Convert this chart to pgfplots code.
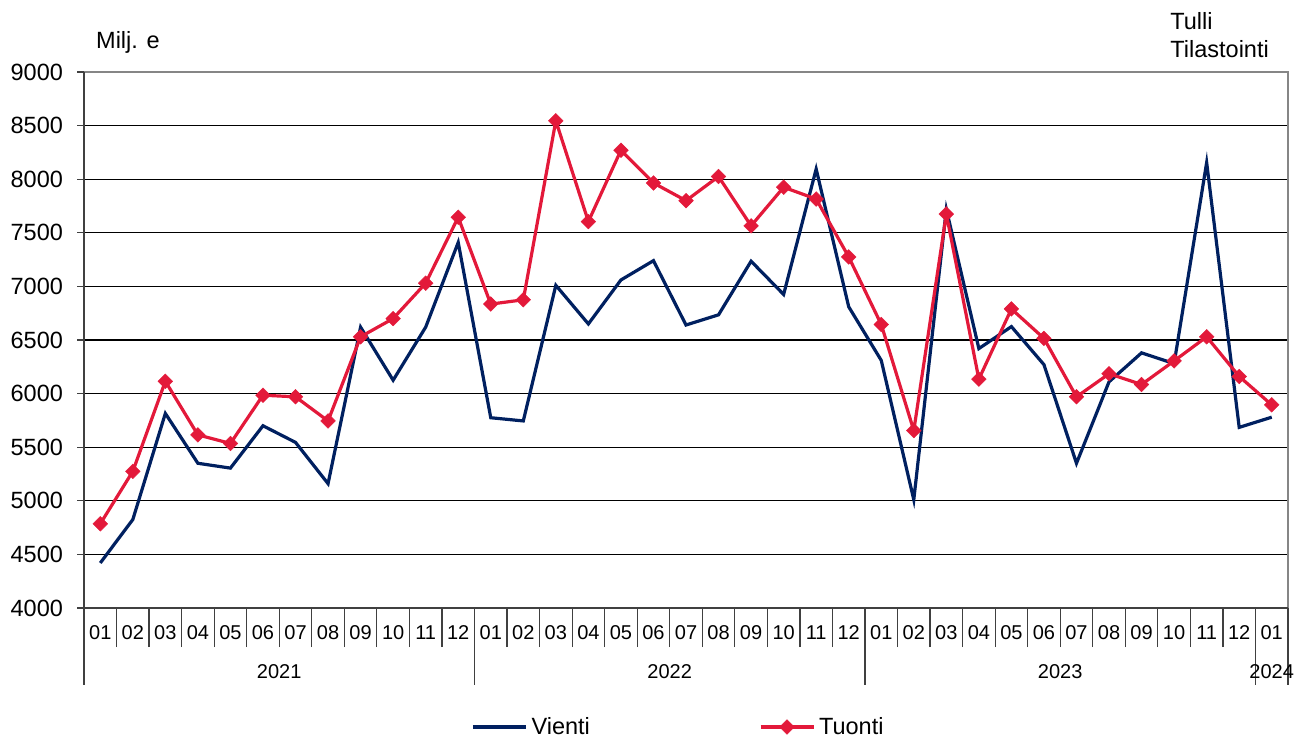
\documentclass[border=0pt]{standalone}
\usepackage{fontspec}
\setmainfont{Liberation Sans}
\usepackage{pgfplots}
\pgfplotsset{compat=1.18}
\definecolor{vienti}{RGB}{0,32,96}
\definecolor{tuonti}{RGB}{227,25,58}
\definecolor{framegray}{RGB}{134,134,134}
\definecolor{axdark}{RGB}{64,64,64}
\begin{document}
\begin{tikzpicture}[x=1pt,y=1pt]
\useasboundingbox (0,0) rectangle (652,370);
\begin{axis}[
  at={(42pt,66pt)}, anchor=south west,
  width=602pt, height=268pt, scale only axis,
  xmin=-0.5, xmax=36.5, ymin=4000, ymax=9000,
  ytick={4000,4500,...,9000},
  xtick={0,...,36},
  xticklabels={01,02,03,04,05,06,07,08,09,10,11,12,01,02,03,04,05,06,07,08,09,10,11,12,01,02,03,04,05,06,07,08,09,10,11,12,01},
  minor xtick={-0.5,0.5,...,36.5},
  tick align=outside,
  tick pos=left,
  major tick length=0pt,
  minor tick length=19.5pt,
  every minor tick/.append style={axdark, line width=0.6pt},
  ymajorgrids,
  grid style={black, line width=0.6pt},
  axis line style={framegray, line width=1pt},
  clip=false,
  /pgf/number format/assume math mode=true,
  /pgf/number format/1000 sep={},
  yticklabel style={font=\fontsize{11.75}{14}\selectfont, anchor=east, xshift=-7pt},
  xticklabel style={font=\fontsize{10}{12}\selectfont, anchor=center, yshift=-12.5pt},
  legend columns=2,
  legend style={at={(0.3164,-0.222)}, anchor=west, draw=none, fill=none,
    font=\fontsize{11.75}{14}\selectfont,
    /tikz/every even column/.append style={column sep=82.5pt}},
  legend image code/.code={\draw[mark repeat=2,mark phase=2,#1] plot coordinates {(0pt,0pt) (13.25pt,0pt) (26.5pt,0pt)};},
]
\addplot[vienti, line width=1.6pt, mark=none] coordinates {
(0,4420) (1,4825) (2,5815) (3,5350) (4,5305) (5,5700) (6,5545) (7,5160) (8,6620) (9,6125) (10,6620) (11,7410)
(12,5775) (13,5745) (14,7010) (15,6650) (16,7060) (17,7240) (18,6640) (19,6735) (20,7235) (21,6925) (22,8095) (23,6810)
(24,6310) (25,5010) (26,7720) (27,6420) (28,6625) (29,6270) (30,5350) (31,6110) (32,6380) (33,6280) (34,8155) (35,5685)
(36,5780)};
\addlegendentry{Vienti}
\addplot[tuonti, line width=1.6pt, mark=square*, mark size=2.6pt,
  mark options={rotate=45, solid, fill=tuonti, draw=tuonti, line width=0.2pt}] coordinates {
(0,4785) (1,5275) (2,6115) (3,5615) (4,5535) (5,5985) (6,5970) (7,5745) (8,6530) (9,6700) (10,7030) (11,7645)
(12,6835) (13,6875) (14,8545) (15,7605) (16,8270) (17,7965) (18,7800) (19,8025) (20,7565) (21,7925) (22,7815) (23,7275)
(24,6645) (25,5655) (26,7675) (27,6135) (28,6790) (29,6515) (30,5970) (31,6185) (32,6085) (33,6305) (34,6530) (35,6160)
(36,5895)};
\addlegendentry{Tuonti}
\draw[axdark, line width=1pt] (rel axis cs:0,1) -- (rel axis cs:0,0) -- (rel axis cs:1,0);
\pgfplotsinvokeforeach{4000,4500,5000,5500,6000,6500,7000,7500,8000,8500,9000}{
  \draw[axdark, line width=0.6pt] (axis cs:-0.5,#1) -- ++(-3.5pt,0pt);
}
\pgfplotsinvokeforeach{-0.5,11.5,23.5,35.5,36.5}{
  \draw[axdark, line width=0.6pt] (axis cs:#1,4000) -- ++(0pt,-38.5pt);
}
\node[font=\fontsize{10}{12}\selectfont] at ([yshift=-32pt]axis cs:5.5,4000) {2021};
\node[font=\fontsize{10}{12}\selectfont] at ([yshift=-32pt]axis cs:17.5,4000) {2022};
\node[font=\fontsize{10}{12}\selectfont] at ([yshift=-32pt]axis cs:29.5,4000) {2023};
\node[font=\fontsize{10}{12}\selectfont] at ([yshift=-32pt]axis cs:36,4000) {2024};
\end{axis}
\node[anchor=base west, inner sep=0pt, font=\fontsize{11.75}{14}\selectfont] at (47.9,345.5) {Milj. e};
\node[anchor=base west, inner sep=0pt, font=\fontsize{11.75}{14}\selectfont] at (585,355) {Tulli};
\node[anchor=base west, inner sep=0pt, font=\fontsize{11.75}{14}\selectfont] at (585,341) {Tilastointi};
\end{tikzpicture}
\end{document}
